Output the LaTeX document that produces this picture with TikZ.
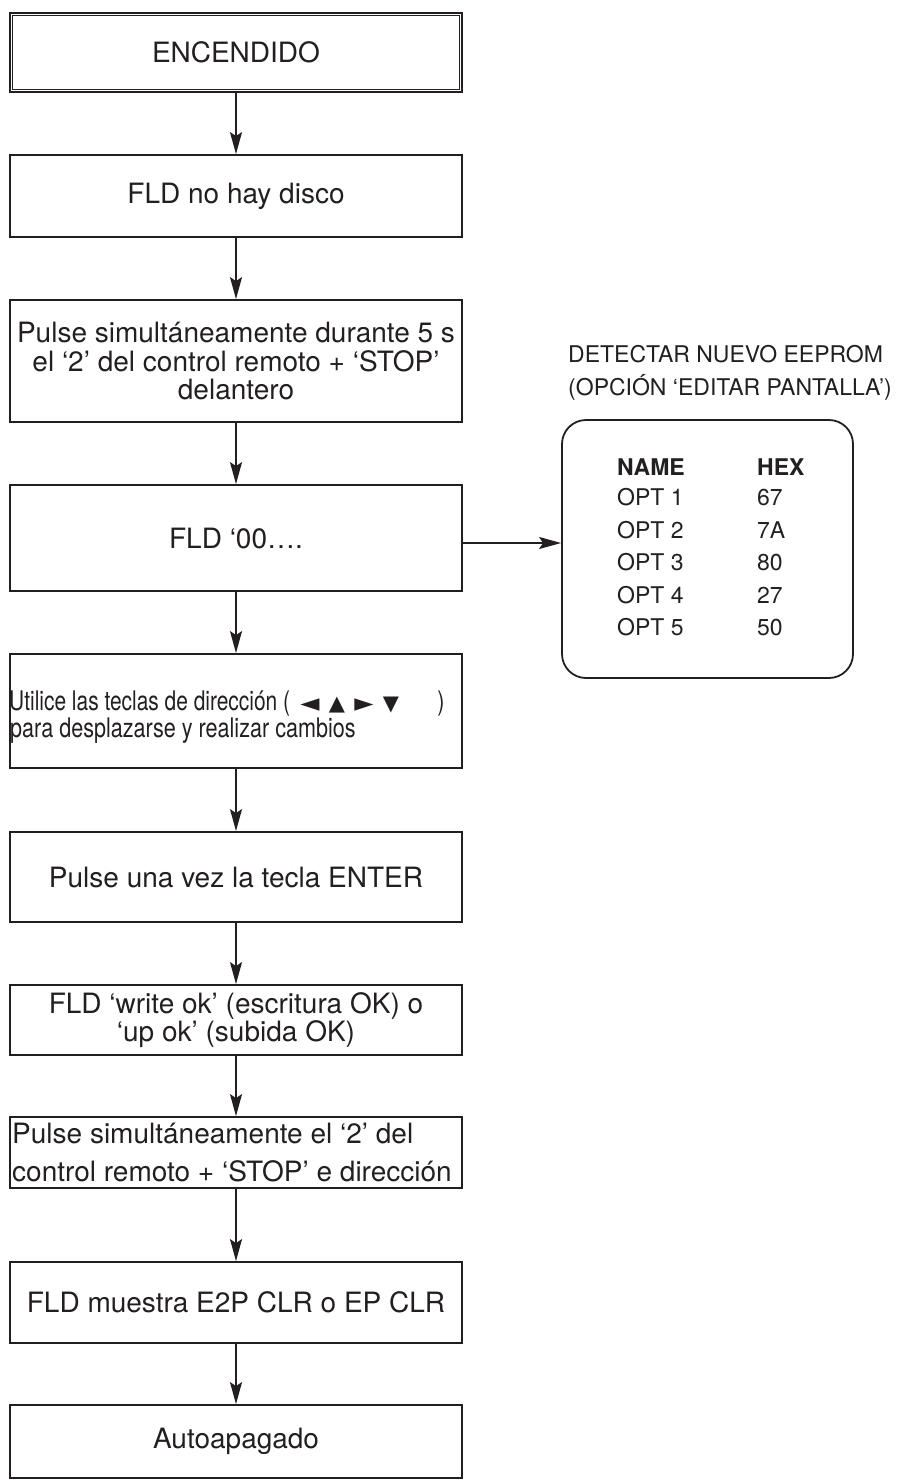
\documentclass[tikz,border=0pt]{standalone}
\usepackage{fontspec}
\setmainfont{TeX Gyre Heros}
\newfontfamily\condfont[FakeStretch=0.8]{TeX Gyre Heros}
\newfontfamily\condfontb[FakeStretch=0.775]{TeX Gyre Heros}
\newfontfamily\symfont{DejaVu Sans}
\usetikzlibrary{arrows.meta}
\definecolor{ink}{HTML}{231F20}
\tikzset{
  flowbox/.style={draw=ink, line width=1.8pt, minimum width=452pt, inner sep=0pt,
    align=center, font=\fontsize{28}{28.5}\selectfont, text=ink},
  flowarrow/.style={draw=ink, line width=1.8pt, -{Stealth[length=22pt,width=12pt,inset=4pt]}},
  tabtext/.style={font=\fontsize{23}{23}\selectfont, text=ink, anchor=base west, inner sep=0pt},
  condtext/.style={font=\fontsize{27}{27}\condfont, text=ink, anchor=base west, inner sep=0pt},
  symtext/.style={font=\fontsize{21}{21}\symfont, text=ink, anchor=base, inner sep=0pt},
  symwide/.style={font=\fontsize{25}{25}\symfont, text=ink, anchor=base, inner sep=0pt},
  lefttext/.style={font=\fontsize{28}{28}\selectfont, text=ink, anchor=base west, inner sep=0pt},
}
\begin{document}
\begin{tikzpicture}[x=1pt,y=-1pt]
\useasboundingbox (0,0) rectangle (900,1480);
% flow boxes
\node[flowbox, line width=2.3pt, minimum height=79pt] (n1) at (236,52.5) {ENCENDIDO};
\draw[ink, line width=0.8pt] ([shift={(3.5pt,-3.5pt)}]n1.north west) rectangle ([shift={(-3.5pt,3.5pt)}]n1.south east);
\node[flowbox, minimum height=82pt] (n2) at (236,196) {FLD no hay disco};
\node[flowbox, minimum height=122pt] (n3) at (236,361) {Pulse simultáneamente durante 5 s\\el ‘2’ del control remoto + ‘STOP’\\delantero};
\node[flowbox, minimum height=106pt] (n4) at (236,538) {FLD ‘00….};
\node[flowbox, minimum height=114pt] (n5) at (236,711) {};
\node[condtext, font=\fontsize{27}{27}\condfontb] (u1) at (9,710) {Utilice las teclas de dirección (};
\node[symwide] (t1) at (310,711) {◄};
\node[symtext] (t2) at (337,710) {▲};
\node[symwide] (t3) at (364,711) {►};
\node[symtext] (t4) at (391,710) {▼};
\node[condtext, anchor=base] (u2) at (441,710) {)};
\node[condtext] (u3) at (10,737) {para desplazarse y realizar cambios};
\node[flowbox, minimum height=90pt] (n6) at (236,877) {Pulse una vez la tecla ENTER};
\node[flowbox, minimum height=70pt] (n7) at (236,1020) {FLD ‘write ok’ (escritura OK) o\\‘up ok’ (subida OK)};
\node[flowbox, minimum height=71pt] (n8) at (236,1152.5) {};
\node[lefttext] (p1) at (12,1143) {Pulse simultáneamente el ‘2’ del};
\node[lefttext] (p2) at (12,1181) {control remoto + ‘STOP’ e dirección};
\node[flowbox, minimum height=81pt] (n9) at (236,1302.5) {FLD muestra E2P CLR o EP CLR};
\node[flowbox, minimum height=73pt] (n10) at (236,1441.5) {Autoapagado};
% arrows
\draw[flowarrow] (n1.south) -- (n2.north);
\draw[flowarrow] (n2.south) -- (n3.north);
\draw[flowarrow] (n3.south) -- (n4.north);
\draw[flowarrow] (n4.south) -- (n5.north);
\draw[flowarrow] (n5.south) -- (n6.north);
\draw[flowarrow] (n6.south) -- (n7.north);
\draw[flowarrow] (n7.south) -- (n8.north);
\draw[flowarrow] (n8.south) -- (n9.north);
\draw[flowarrow] (n9.south) -- (n10.north);
% table
\node[draw=ink, line width=1.8pt, rounded corners=24pt, minimum width=291pt, minimum height=258pt, inner sep=0pt] (tbl) at (707.5,549) {};
\draw[flowarrow] ([yshift=-5pt]n4.east) -- ([yshift=-5pt]n4.east -| tbl.west);
\node[tabtext] (h1) at (568,362) {DETECTAR NUEVO EEPROM};
\node[tabtext] (h2) at (568,395) {(OPCIÓN ‘EDITAR PANTALLA’)};
\node[tabtext, font=\fontsize{23}{23}\bfseries] (c1) at (617,475) {NAME};
\node[tabtext, font=\fontsize{23}{23}\bfseries] (c2) at (757,475) {HEX};
\node[tabtext] (r1a) at (617,505) {OPT 1};
\node[tabtext] (r1b) at (757,505) {67};
\node[tabtext] (r2a) at (617,538) {OPT 2};
\node[tabtext] (r2b) at (757,538) {7A};
\node[tabtext] (r3a) at (617,570) {OPT 3};
\node[tabtext] (r3b) at (757,570) {80};
\node[tabtext] (r4a) at (617,603) {OPT 4};
\node[tabtext] (r4b) at (757,603) {27};
\node[tabtext] (r5a) at (617,635) {OPT 5};
\node[tabtext] (r5b) at (757,635) {50};
\end{tikzpicture}
\end{document}
